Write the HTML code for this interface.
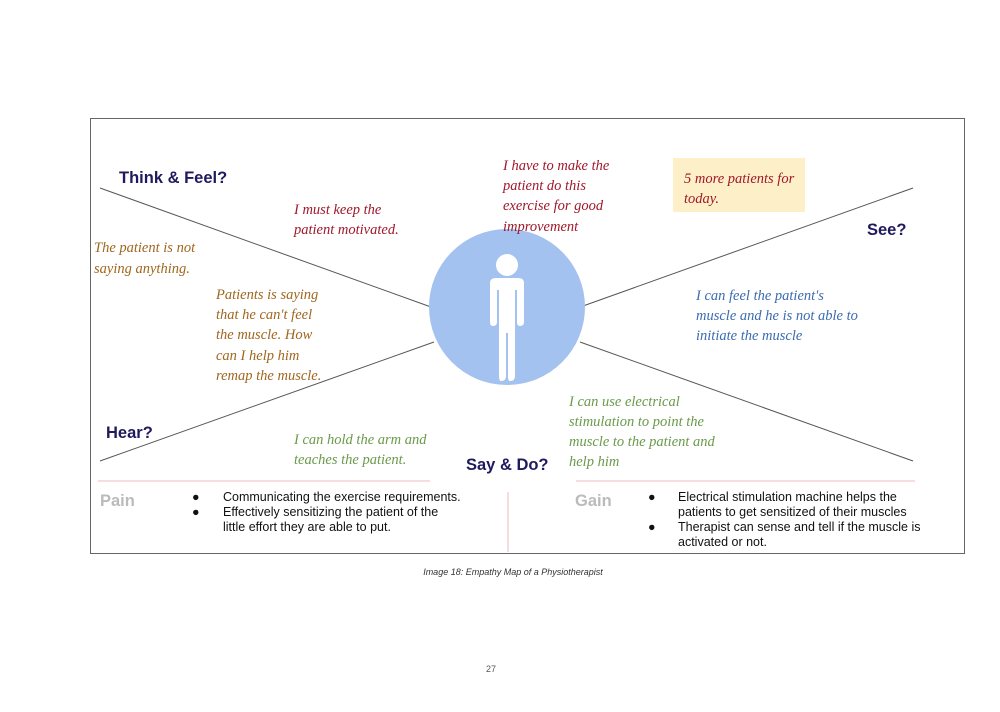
<!DOCTYPE html>
<html><head><style>
body{margin:0;background:#fff;}
svg text{font-family:"Liberation Sans",sans-serif;}
svg .h text{font-family:"Liberation Serif",serif;font-style:italic;font-size:14.5px;}
.t{font-weight:bold;font-size:16.5px;fill:#1f1a5e;}
.b{font-size:12.5px;fill:#111;}
</style></head><body>
<svg width="1000" height="707" viewBox="0 0 1000 707">
<rect x="90.5" y="118.5" width="874" height="435" fill="#fff" stroke="#666" stroke-width="1"/>
<g stroke="#555" stroke-width="1">
<line x1="100" y1="188" x2="431" y2="307"/>
<line x1="100" y1="461" x2="434" y2="342"/>
<line x1="583" y1="306" x2="913" y2="188"/>
<line x1="580" y1="342" x2="913" y2="461"/>
</g>
<g stroke="#f0b8c0" stroke-width="1">
<line x1="98" y1="481" x2="430" y2="481"/>
<line x1="576" y1="481" x2="915" y2="481"/>
<line x1="508" y1="492" x2="508" y2="552"/>
</g>
<circle cx="507" cy="307" r="78" fill="#a4c2f0"/>
<g fill="#fff">
<circle cx="507" cy="265" r="11"/>
<path d="M490 283 Q490 278 496 278 H518 Q524 278 524 283 V322 Q524 326 520 326 Q517 326 517 322 V290 H515 V376 Q515 381 510 381 Q508 381 508 376 V333 H506 V376 Q506 381 501 381 Q499 381 499 376 V290 H497 V322 Q497 326 493 326 Q490 326 490 322 Z"/>
</g>
<rect x="673" y="158" width="132" height="54" fill="#fdf0c8"/>
<text class="t" x="119" y="183">Think &amp; Feel?</text>
<text class="t" x="867" y="235">See?</text>
<text class="t" x="106" y="438">Hear?</text>
<text class="t" x="466" y="470">Say &amp; Do?</text>
<g class="h" fill="#a0182a">
<text x="294" y="214">I must keep the</text>
<text x="294" y="234">patient motivated.</text>
<text x="503" y="170">I have to make the</text>
<text x="503" y="190">patient do this</text>
<text x="503" y="210">exercise for good</text>
<text x="503" y="231">improvement</text>
<text x="684" y="183">5 more patients for</text><text x="684" y="203">today.</text>
</g>
<g class="h" fill="#a0661e">
<text x="94" y="252">The patient is not</text>
<text x="94" y="273">saying anything.</text>
<text x="216" y="299">Patients is saying</text>
<text x="216" y="319">that he can't feel</text>
<text x="216" y="339">the muscle. How</text>
<text x="216" y="360">can I help him</text>
<text x="216" y="380">remap the muscle.</text>
</g>
<g class="h" fill="#3b6bb0">
<text x="696" y="300">I can feel the patient's</text>
<text x="696" y="320">muscle and he is not able to</text>
<text x="696" y="340">initiate the muscle</text>
</g>
<g class="h" fill="#6a9a4a">
<text x="294" y="444">I can hold the arm and</text>
<text x="294" y="464">teaches the patient.</text>
<text x="569" y="406">I can use electrical</text>
<text x="569" y="426">stimulation to point the</text>
<text x="569" y="446">muscle to the patient and</text>
<text x="569" y="466">help him</text>
</g>
<text x="100" y="506" font-size="16.5" font-weight="bold" fill="#bbb">Pain</text>
<text x="575" y="506" font-size="16.5" font-weight="bold" fill="#bbb">Gain</text>
<g class="b">
<text x="192" y="501">●</text><text x="223" y="501">Communicating the exercise requirements.</text>
<text x="192" y="516">●</text><text x="223" y="516">Effectively sensitizing the patient of the</text>
<text x="223" y="531">little effort they are able to put.</text>
<text x="648" y="501">●</text><text x="678" y="501">Electrical stimulation machine helps the</text>
<text x="678" y="516">patients to get sensitized of their muscles</text>
<text x="648" y="531">●</text><text x="678" y="531">Therapist can sense and tell if the muscle is</text>
<text x="678" y="546">activated or not.</text>
</g>
<text x="513" y="575" font-size="9" font-style="italic" fill="#333" text-anchor="middle">Image 18: Empathy Map of a Physiotherapist</text>
<text x="486" y="672" font-size="9" fill="#555">27</text>
</svg>
</body></html>
